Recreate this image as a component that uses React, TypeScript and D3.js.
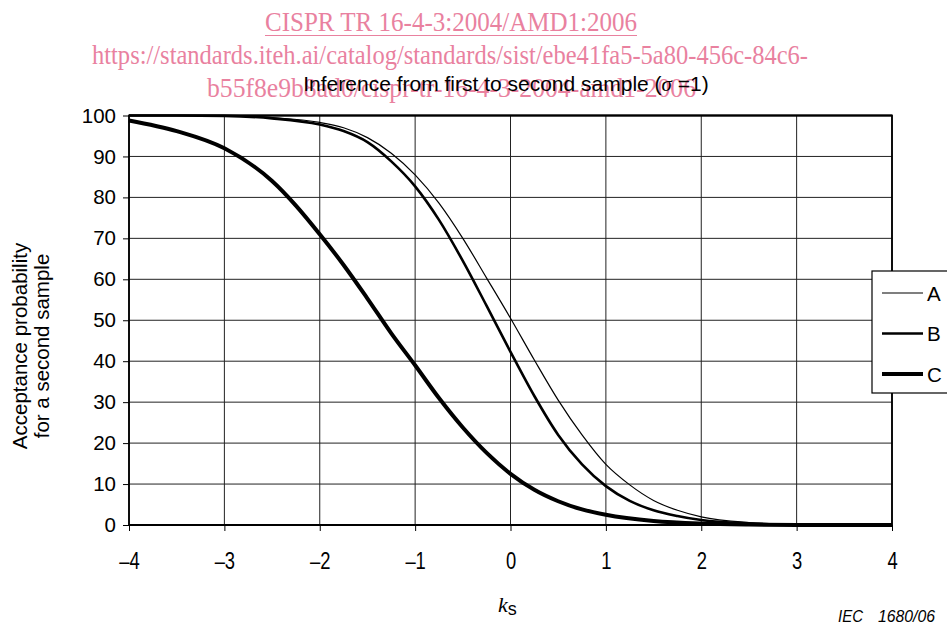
import React, { useEffect, useRef } from 'react';
import * as d3 from 'd3';

// k_s sample positions and read-off acceptance probabilities (%)
const kA = [-4, -3, -2.5, -2, -1.75, -1.5, -1.25, -1, -0.75, -0.5, -0.25, 0, 0.25, 0.5, 0.75, 1, 1.25, 1.5, 1.75, 2, 2.5, 3, 3.5, 4];
const valA = [100, 100, 99.5, 98.3, 97.0, 94.6, 90.8, 85.5, 78.6, 70, 60.3, 50.5, 40.3, 30.5, 22, 14.8, 9.8, 6.0, 3.6, 2.0, 0.6, 0.15, 0.03, 0];

const kB = [-4, -3.5, -3, -2.5, -2, -1.75, -1.5, -1.25, -1, -0.75, -0.5, -0.25, 0, 0.25, 0.5, 0.75, 1, 1.25, 1.5, 1.75, 2, 2.5, 3, 4];
const valB = [100, 100, 99.9, 99.3, 97.8, 96.2, 93.5, 88.8, 82.7, 74.5, 64.5, 53.5, 42.3, 31.5, 22, 14.8, 9.5, 5.9, 3.6, 2.2, 1.2, 0.35, 0.08, 0];

const kC = [-4, -3.5, -3, -2.5, -2.25, -2, -1.75, -1.5, -1.25, -1, -0.75, -0.5, -0.25, 0, 0.25, 0.5, 0.75, 1, 1.5, 2, 2.5, 3, 4];
const valC = [98.8, 96.2, 92.0, 84.0, 78.0, 71.0, 63.5, 55.3, 46.8, 39.0, 31.0, 23.8, 17.6, 12.5, 8.6, 5.8, 3.8, 2.5, 1.0, 0.35, 0.1, 0.02, 0];

const seriesNames = ['A', 'B', 'C'];
const seriesWidths = [1.2, 2.6, 4];

const xTicks = [-4, -3, -2, -1, 0, 1, 2, 3, 4];
const yTicks = [0, 10, 20, 30, 40, 50, 60, 70, 80, 90, 100];

const W = 947;
const H = 625;
const margin = { top: 115.5, right: 55, bottom: 100, left: 129 };

const watermark = [
    { text: 'CISPR TR 16-4-3:2004/AMD1:2006', x: 265, y: 31, len: 372 },
    { text: 'https://standards.iteh.ai/catalog/standards/sist/ebe41fa5-5a80-456c-84c6-', x: 92, y: 64, len: 716 },
    { text: 'b55f8e9b8ad0/cispr-tr-16-4-3-2004-amd1-2006', x: 207, y: 97, len: 489 }
];

const sans = '"Liberation Sans", Arial, sans-serif';

const App = () => {
    const axisX = useRef<SVGGElement>(null);
    const axisY = useRef<SVGGElement>(null);

    const gw = 892 - margin.left;
    const gh = 525 - margin.top;

    const x = d3.scaleLinear().domain([-4, 4]).range([0, gw]);
    const y = d3.scaleLinear().domain([0, 100]).range([gh, 0]);

    const line = d3.line<[number, number]>()
        .x(d => x(d[0]))
        .y(d => y(d[1]))
        .curve(d3.curveMonotoneX);

    const series = [
        kA.map((k, i) => [k, valA[i]] as [number, number]),
        kB.map((k, i) => [k, valB[i]] as [number, number]),
        kC.map((k, i) => [k, valC[i]] as [number, number])
    ];

    useEffect(() => {
        const ax = d3.axisBottom(x).tickValues(xTicks).tickSize(6).tickPadding(22)
            .tickFormat(d => (+d < 0 ? '\u2013' + Math.abs(+d) : String(d)));
        const gx = d3.select(axisX.current!).call(ax);
        gx.select('.domain').remove();
        gx.selectAll('line').attr('stroke', '#000');
        gx.selectAll('text')
            .attr('font-family', sans)
            .attr('font-size', 23)
            .attr('transform', 'scale(0.8,1)')
            .attr('fill', '#000');

        const ay = d3.axisLeft(y).tickValues(yTicks).tickSize(6).tickPadding(7);
        const gy = d3.select(axisY.current!).call(ay);
        gy.select('.domain').remove();
        gy.selectAll('line').attr('stroke', '#000');
        gy.selectAll('text')
            .attr('font-family', sans)
            .attr('font-size', 20.5)
            .attr('fill', '#000');
    }, []);

    return (
        <svg width={W} height={H} style={{ position: 'absolute', left: 0, top: 0, background: '#fff' }}>
            {watermark.map((w, i) => (
                <text key={i} x={w.x} y={w.y} textLength={w.len} lengthAdjust="spacingAndGlyphs"
                    fontFamily='"Liberation Serif", "Times New Roman", serif' fontSize={27} fill="#e9819f">{w.text}</text>
            ))}
            <line x1={265} x2={637} y1={35.5} y2={35.5} stroke="#e9819f" strokeWidth={1.2} />

            <text x={506} y={91} textAnchor="middle" fontFamily={sans} fontSize={21} fill="#000">
                Inference from first to second sample (<tspan fontFamily='"Liberation Serif", serif' fontStyle="italic">σ</tspan> =1)
            </text>

            <g transform={`translate(${margin.left}, ${margin.top})`}>
                {xTicks.map(t => (
                    <line key={'gx' + t} x1={x(t)} x2={x(t)} y1={0} y2={gh} stroke="#222" strokeWidth={1} />
                ))}
                {yTicks.map(t => (
                    <line key={'gy' + t} x1={0} x2={gw} y1={y(t)} y2={y(t)} stroke="#222" strokeWidth={1} />
                ))}
                <rect x={0} y={0} width={gw} height={gh} fill="none" stroke="#000" strokeWidth={1.8} />
                <line x1={0} x2={gw} y1={0} y2={0} stroke="#000" strokeWidth={2.2} />
                <line x1={0} x2={gw} y1={gh} y2={gh} stroke="#000" strokeWidth={2.2} />
                {series.map((s, i) => (
                    <path key={seriesNames[i]} d={line(s) || ''} fill="none" stroke="#000" strokeWidth={seriesWidths[i]} strokeLinejoin="round" />
                ))}
            </g>
            <g ref={axisX} transform={`translate(${margin.left}, 525)`} />
            <g ref={axisY} transform={`translate(${margin.left}, ${margin.top})`} />

            <text transform="translate(27, 346) rotate(-90)" textAnchor="middle" fontFamily={sans} fontSize={20.5} fill="#000">
                <tspan x={0} y={0}>Acceptance probability</tspan>
                <tspan x={0} y={22}>for a second sample</tspan>
            </text>

            <text x={498} y={612} fontFamily='"Liberation Serif", serif' fontStyle="italic" fontSize={22} fill="#000">
                k<tspan fontFamily={sans} fontStyle="normal" fontSize={18} dy={3}>s</tspan>
            </text>

            <text x={838} y={622} textLength={25} lengthAdjust="spacingAndGlyphs" fontFamily={sans} fontStyle="italic" fontSize={16} fill="#000">IEC</text>
            <text x={878} y={622} textLength={57} lengthAdjust="spacingAndGlyphs" fontFamily={sans} fontStyle="italic" fontSize={16} fill="#000">1680/06</text>

            <g transform="translate(872, 271)">
                <rect x={0} y={0} width={90} height={122} fill="#fff" stroke="#000" strokeWidth={1.2} />
                {seriesNames.map((n, i) => (
                    <g key={n} transform={`translate(0, ${22 + i * 40.5})`}>
                        <line x1={10} x2={51} y1={0} y2={0} stroke="#000" strokeWidth={seriesWidths[i]} />
                        <text x={55} y={7.5} fontFamily={sans} fontSize={20.5} fill="#000">{n}</text>
                    </g>
                ))}
            </g>
        </svg>
    );
};

export default App;
